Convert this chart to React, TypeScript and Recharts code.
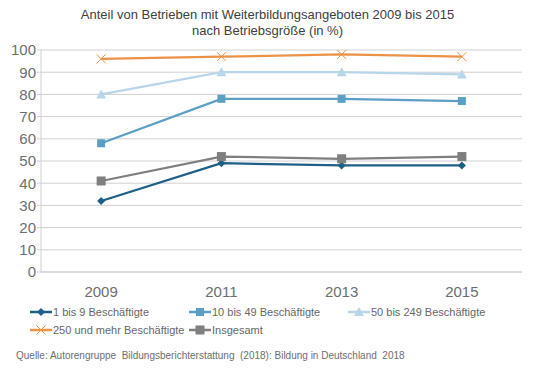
import React from 'react';
import { LineChart, Line, XAxis, YAxis, CartesianGrid } from 'recharts';

// values (in %)
const years = [2009, 2011, 2013, 2015];
const klein = [32, 49, 48, 48];
const mittel = [58, 78, 78, 77];
const gross = [80, 90, 90, 89];
const sehrGross = [96, 97, 98, 97];
const insgesamt = [41, 52, 51, 52];
const yTicks = [0, 10, 20, 30, 40, 50, 60, 70, 80, 90, 100];
const frameTicks = [2008, 2010, 2012, 2014, 2016];

const data = years.map((year, i) => ({
  year,
  klein: klein[i],
  mittel: mittel[i],
  gross: gross[i],
  sehrGross: sehrGross[i],
  insgesamt: insgesamt[i],
}));

type MarkerKind = 'diamond' | 'square' | 'triangle' | 'cross' | 'bigsquare';

const Marker = ({ kind, cx, cy, color }: { kind: MarkerKind; cx: number; cy: number; color: string }) => {
  switch (kind) {
    case 'diamond':
      return <path d={`M${cx},${cy - 4}L${cx + 4},${cy}L${cx},${cy + 4}L${cx - 4},${cy}Z`} fill={color} />;
    case 'square':
      return <rect x={cx - 4} y={cy - 4} width={8} height={8} fill={color} />;
    case 'bigsquare':
      return <rect x={cx - 4.5} y={cy - 4.5} width={9} height={9} fill={color} />;
    case 'triangle':
      return <path d={`M${cx},${cy - 5}L${cx + 5},${cy + 4}L${cx - 5},${cy + 4}Z`} fill={color} />;
    case 'cross':
      return (
        <path
          d={`M${cx - 4.5},${cy - 4.5}L${cx + 4.5},${cy + 4.5}M${cx + 4.5},${cy - 4.5}L${cx - 4.5},${cy + 4.5}`}
          stroke={color}
          strokeWidth={1}
          fill="none"
        />
      );
  }
};

const series: { key: string; name: string; color: string; marker: MarkerKind }[] = [
  { key: 'klein', name: '1 bis 9 Beschäftigte', color: '#1d5f85', marker: 'diamond' },
  { key: 'mittel', name: '10 bis 49 Beschäftigte', color: '#5b9fc4', marker: 'square' },
  { key: 'gross', name: '50 bis 249 Beschäftigte', color: '#b8d6ea', marker: 'triangle' },
  { key: 'sehrGross', name: '250 und mehr Beschäftigte', color: '#eb9246', marker: 'cross' },
  { key: 'insgesamt', name: 'Insgesamt', color: '#7f7f7f', marker: 'bigsquare' },
];

const font = '"Liberation Sans", Arial, sans-serif';

const LegendItem = ({ s }: { s: (typeof series)[number] }) => (
  <div style={{ display: 'flex', alignItems: 'center', minWidth: 159, height: 18 }}>
    <svg width={22} height={12} style={{ marginRight: 1 }}>
      <line x1={0} y1={6} x2={22} y2={6} stroke={s.color} strokeWidth={2.5} />
      <Marker kind={s.marker} cx={11} cy={6} color={s.color} />
    </svg>
    <span>{s.name}</span>
  </div>
);

const App = () => {
  return (
    <div style={{ position: 'absolute', left: 0, top: 0, width: 537, height: 370, background: '#fff', fontFamily: font }}>
      <div
        style={{
          position: 'absolute',
          left: 0,
          top: 7,
          width: 535,
          textAlign: 'center',
          fontSize: 13,
          lineHeight: '16px',
          color: '#404040',
        }}
      >
        Anteil von Betrieben mit Weiterbildungsangeboten 2009 bis 2015
        <br />
        nach Betriebsgröße (in %)
      </div>
      <div style={{ position: 'absolute', left: 0, top: 0 }}>
        <LineChart width={537} height={300} data={data} margin={{ top: 50, right: 15, bottom: 0, left: 0 }}>
          <CartesianGrid vertical={false} stroke="#d0d0d0" strokeWidth={1} />
          <XAxis
            type="number"
            dataKey="year"
            domain={[2008, 2016]}
            ticks={frameTicks}
            tick={false}
            height={6}
            tickSize={5}
            axisLine={{ stroke: '#d0d0d0' }}
            tickLine={{ stroke: '#d0d0d0' }}
          />
          <XAxis
            xAxisId="years"
            type="number"
            dataKey="year"
            domain={[2008, 2016]}
            ticks={years}
            height={22}
            axisLine={false}
            tickLine={false}
            tickSize={6}
            tickMargin={2}
            tick={{ fill: '#6e6e6e', fontSize: 15, fontFamily: font }}
          />
          <YAxis
            type="number"
            domain={[0, 100]}
            ticks={yTicks}
            width={41}
            tickSize={4}
            tickMargin={1}
            interval={0}
            axisLine={{ stroke: '#d0d0d0' }}
            tickLine={{ stroke: '#d0d0d0' }}
            tick={{ fill: '#6e6e6e', fontSize: 15, fontFamily: font }}
          />
          {series.map((s) => (
            <Line
              key={s.key}
              xAxisId="years"
              dataKey={s.key}
              name={s.name}
              type="linear"
              stroke={s.color}
              strokeWidth={2.25}
              isAnimationActive={false}
              activeDot={false}
              dot={(p: any) => <Marker key={`${s.key}-${p.index}`} kind={s.marker} cx={p.cx} cy={p.cy} color={s.color} />}
            />
          ))}
        </LineChart>
      </div>
      <div
        style={{
          position: 'absolute',
          left: 30,
          top: 303,
          width: 500,
          display: 'flex',
          flexWrap: 'wrap',
          fontSize: 11,
          color: '#666666',
        }}
      >
        {series.map((s) => (
          <LegendItem key={s.key} s={s} />
        ))}
      </div>
      <div style={{ position: 'absolute', left: 16, top: 350, fontSize: 10, color: '#6e6e6e', whiteSpace: 'pre' }}>
        {'Quelle: Autorengruppe  Bildungsberichterstattung  (2018): Bildung in Deutschland  2018'}
      </div>
    </div>
  );
};

export default App;
